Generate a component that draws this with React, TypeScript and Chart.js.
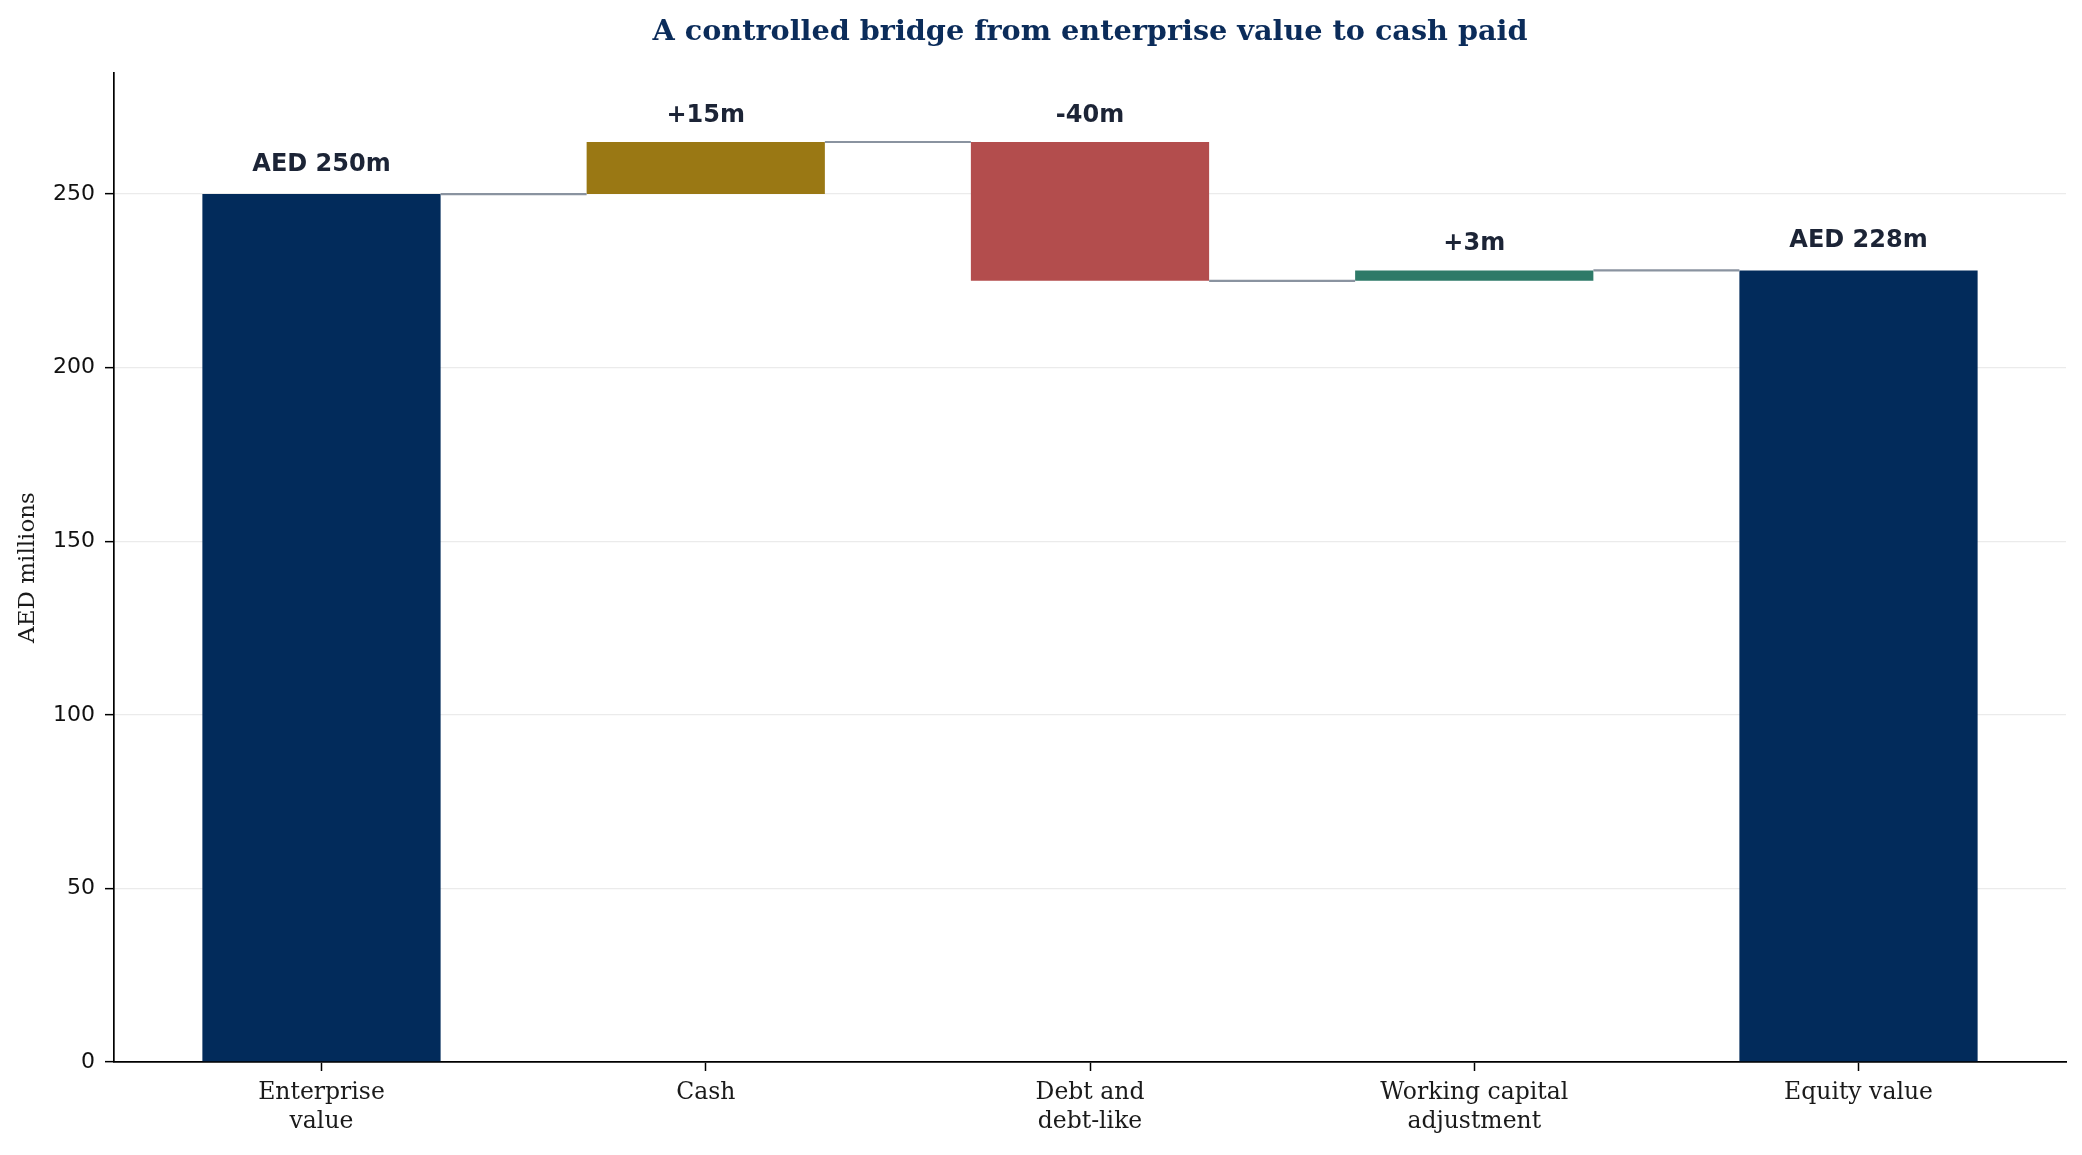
import React, { useEffect, useRef } from 'react'
import Chart from 'chart.js/auto'

// waterfall steps
const categories: string[][] = [['Enterprise', 'value'], ['Cash'], ['Debt and', 'debt-like'], ['Working capital', 'adjustment'], ['Equity value']]
const barStarts = [0, 250, 265, 225, 0]
const barEnds = [250, 265, 225, 228, 228]
const barLabels = ['AED 250m', '+15m', '-40m', '+3m', 'AED 228m']
const isTotal = [true, false, false, false, true]
const barColors = ['#022b5b', '#9a7814', '#b34d4d', '#2e7a68', '#022b5b']
const yTickValues = [0, 50, 100, 150, 200, 250]

const TITLE = 'A controlled bridge from enterprise value to cash paid'
const BAR_WIDTH = 0.62

const labelPlugin = {
    id: 'waterfallText',
    afterDatasetsDraw(chart: any) {
        const { ctx, scales, chartArea } = chart
        const x = scales.x
        const y = scales.y
        ctx.save()
        ctx.fillStyle = '#1c2436'
        ctx.font = 'bold 24px "DejaVu Sans"'
        ctx.textAlign = 'center'
        ctx.textBaseline = 'alphabetic'
        barLabels.forEach((txt, i) => {
            const top = Math.max(barStarts[i], barEnds[i])
            const off = isTotal[i] ? 23 : 20
            ctx.fillText(txt, x.getPixelForValue(i), y.getPixelForValue(top) - off)
        })
        ctx.fillStyle = '#0b2c5a'
        ctx.font = 'bold 28.7px "DejaVu Serif"'
        ctx.fillText(TITLE, (chartArea.left + chartArea.right) / 2, 40)
        ctx.restore()
    }
}

const WaterfallChart: React.FC = () => {
    const chartRef = useRef<HTMLCanvasElement>(null)
    const chartInstance = useRef<Chart | null>(null)

    useEffect(() => {
        if (!chartRef.current) return
        const ctx = chartRef.current.getContext('2d')
        if (!ctx) return
        if (chartInstance.current) chartInstance.current.destroy()

        const connectors: { x: number; y: number | null }[] = []
        for (let i = 0; i < barEnds.length - 1; i++) {
            connectors.push({ x: i + BAR_WIDTH / 2, y: barEnds[i] })
            connectors.push({ x: i + 1 - BAR_WIDTH / 2, y: barEnds[i] })
            connectors.push({ x: i + 0.5, y: null })
        }

        chartInstance.current = new Chart(ctx, {
            type: 'bar',
            data: {
                datasets: [
                    {
                        type: 'bar',
                        data: categories.map((_, i) => ({ x: i, y: [barStarts[i], barEnds[i]] })) as any,
                        backgroundColor: barColors,
                        borderWidth: 0,
                        barPercentage: BAR_WIDTH,
                        categoryPercentage: 1,
                        order: 2
                    },
                    {
                        type: 'line',
                        data: connectors as any,
                        borderColor: '#8a93a0',
                        borderWidth: 2.2,
                        pointRadius: 0,
                        spanGaps: false,
                        order: 1
                    }
                ]
            },
            options: {
                animation: false,
                responsive: true,
                maintainAspectRatio: false,
                layout: { padding: { left: 0, top: 73, right: 16, bottom: 0 } },
                plugins: {
                    legend: { display: false },
                    tooltip: { enabled: false },
                    title: { display: false }
                },
                scales: {
                    x: {
                        type: 'linear',
                        min: -0.54,
                        max: 4.54,
                        offset: false,
                        afterBuildTicks: (scale: any) => {
                            scale.ticks = categories.map((_, i) => ({ value: i }))
                        },
                        afterFit: (scale: any) => { scale.height = 93 },
                        ticks: {
                            callback: (v: any) => categories[Number(v)] ?? '',
                            font: { family: '"DejaVu Serif"', size: 23.5, lineHeight: 1.24 },
                            color: '#1a1a1a',
                            padding: 7,
                            maxRotation: 0,
                            autoSkip: false
                        },
                        grid: { offset: false, drawOnChartArea: false, drawTicks: true, tickLength: 9, tickColor: '#000', tickWidth: 1.5 },
                        border: { display: true, color: '#000', width: 1.7 }
                    },
                    y: {
                        min: 0,
                        max: 265 * 1.075,
                        afterBuildTicks: (scale: any) => {
                            scale.ticks = yTickValues.map(v => ({ value: v }))
                        },
                        afterFit: (scale: any) => { scale.width = 114 },
                        ticks: {
                            font: { family: '"DejaVu Sans"', size: 22 },
                            color: '#111',
                            padding: 10
                        },
                        grid: { color: '#ebebeb', lineWidth: 1.3, drawTicks: true, tickLength: 9, tickColor: '#000', tickWidth: 1.5 },
                        border: { display: true, color: '#000', width: 1.7 },
                        title: {
                            display: true,
                            text: 'AED millions',
                            font: { family: '"DejaVu Serif"', size: 23 },
                            color: '#1a1a1a',
                            padding: { top: 14, bottom: 0 }
                        }
                    }
                }
            },
            plugins: [labelPlugin]
        })

        return () => {
            if (chartInstance.current) {
                chartInstance.current.destroy()
                chartInstance.current = null
            }
        }
    }, [])

    return <canvas ref={chartRef}></canvas>
}

export default function App() {
    return (
        <div style={{ position: 'fixed', left: 0, top: 0, width: 2082, height: 1155, background: '#fff' }}>
            <WaterfallChart />
        </div>
    )
}
